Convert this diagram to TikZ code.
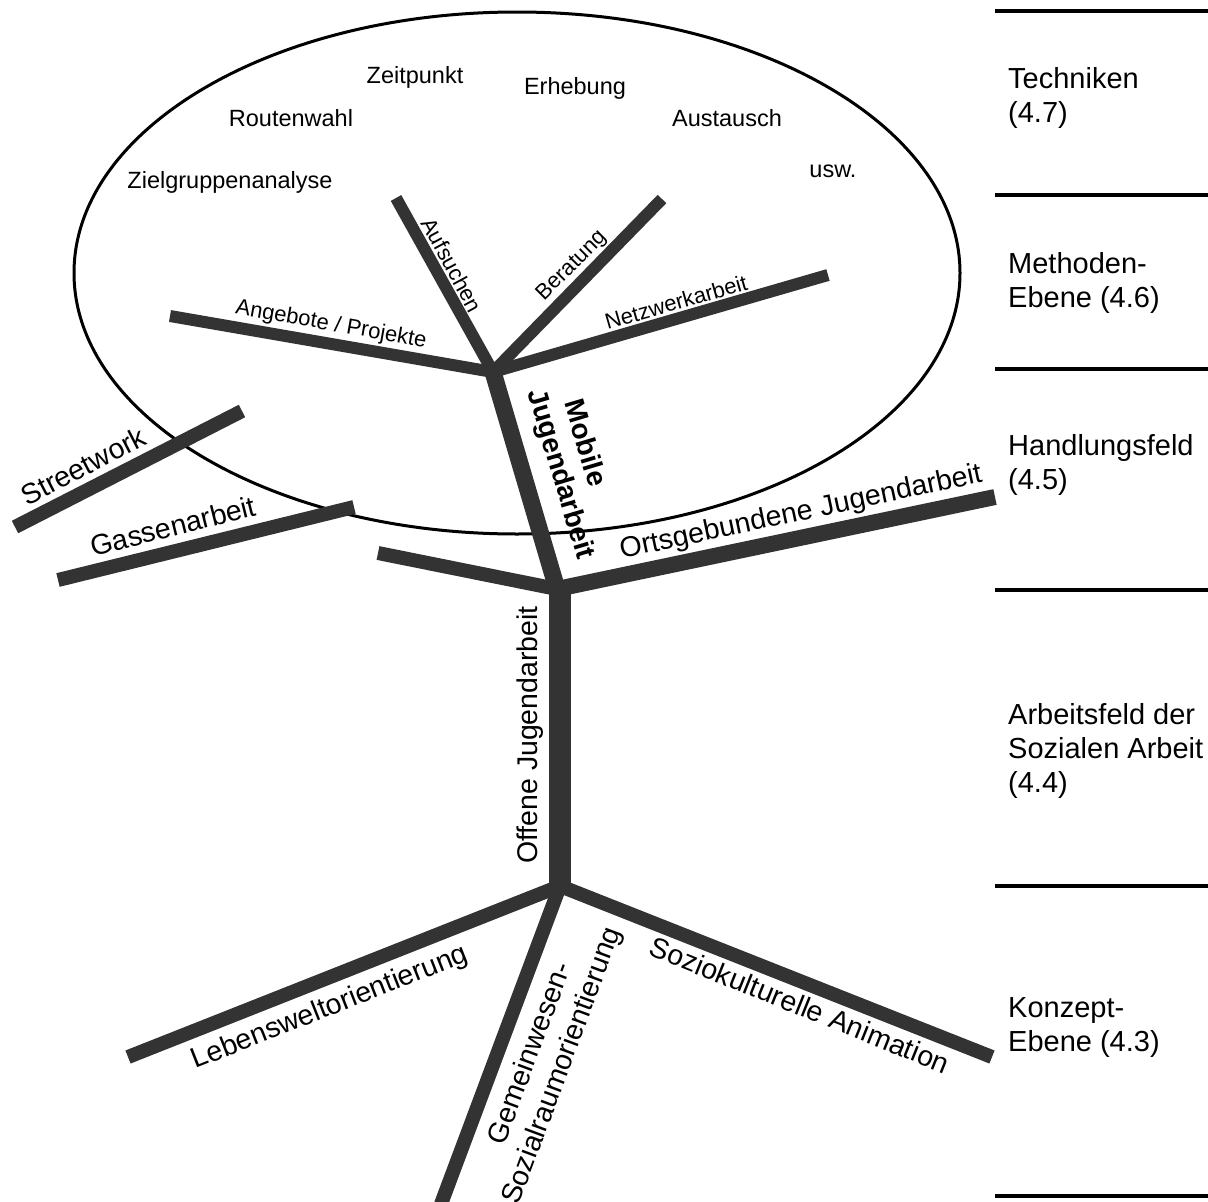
\documentclass[tikz,border=0pt]{standalone}
\usepackage{fontspec}
\setmainfont{Liberation Sans}
\usetikzlibrary{shapes.geometric}
\definecolor{brgray}{HTML}{333333}
\begin{document}
\begin{tikzpicture}[x=1pt,y=-1pt,
  br/.style={draw=brgray,line width=#1,line cap=butt},
  lbl/.style={inner sep=0pt,font=\fontsize{28.5}{34}\selectfont},
  slbl/.style={inner sep=0pt,font=\fontsize{22}{26}\selectfont},
  tech/.style={inner sep=0pt,anchor=base,font=\fontsize{23.5}{28}\selectfont},
  lvl/.style={inner sep=0pt,anchor=north west,align=left,font=\fontsize{29}{34}\selectfont},
  sep/.style={draw=black,line width=3.3pt}]
\useasboundingbox (0,0) rectangle (1208,1202);
% ellipse
\node[draw=black,line width=3pt,ellipse,minimum width=886pt,minimum height=522pt,inner sep=0pt] (ell) at (517,273) {};
% coordinates
\coordinate (jt) at (493,372);
\coordinate (jm) at (557,589);
\coordinate (jb) at (560,886);
\coordinate (tTop) at (560,582);
\coordinate (tBot) at (560,895);
\coordinate (eAng) at (170,316);
\coordinate (eAuf) at (396,198);
\coordinate (eBer) at (662,199);
\coordinate (eNetz) at (828,275);
\coordinate (sA) at (15,527);
\coordinate (sB) at (242,411);
\coordinate (gA) at (58,580);
\coordinate (gB) at (354,507);
\coordinate (eLeft) at (378,553);
\coordinate (eOrts) at (995,497);
\coordinate (eLeb) at (128,1057);
\coordinate (eGem) at (441,1204);
\coordinate (eSozio) at (992,1057);
% branches
\draw[br=22pt] (tBot) -- (tTop);
\draw[br=17pt] (jm) -- (jt);
\draw[br=16pt] (jm) -- (eOrts);
\draw[br=14pt] (jm) -- (eLeft);
\draw[br=12pt] (jt) -- (eAng);
\draw[br=12pt] (jt) -- (eAuf);
\draw[br=12pt] (jt) -- (eBer);
\draw[br=12pt] (jt) -- (eNetz);
\draw[br=14pt] (sA) -- (sB);
\draw[br=14pt] (gA) -- (gB);
\draw[br=14pt] (jb) -- (eLeb);
\draw[br=14pt] (jb) -- (eGem);
\draw[br=14pt] (jb) -- (eSozio);
% technique words
\node[tech] (zeit) at (415,83) {Zeitpunkt};
\node[tech] (erh) at (575,94) {Erhebung};
\node[tech] (rout) at (291,126) {Routenwahl};
\node[tech] (aust) at (727,126) {Austausch};
\node[tech] (ziel) at (230,188) {Zielgruppenanalyse};
\node[tech] (usw) at (833,177) {usw.};
% branch labels
\node[slbl,rotate=-10] (lAng) at (331,325) {Angebote / Projekte};
\node[slbl,rotate=-61.6] (lAuf) at (452,265) {Aufsuchen};
\node[slbl,rotate=45] (lBer) at (572,266) {Beratung};
\node[slbl,rotate=16] (lNetz) at (676,302) {Netzwerkarbeit};
\node[inner sep=0pt,align=center,rotate=-73.4,font=\fontsize{28}{32}\bfseries\selectfont] (lMob) at (575,470) {Mobile\hspace*{46pt}\\Jugendarbeit};
\node[lbl,rotate=27.3] (lStr) at (83,466) {Streetwork};
\node[lbl,rotate=14] (lGas) at (173,526) {Gassenarbeit};
\node[lbl,rotate=12] (lOrts) at (801,513) {Ortsgebundene Jugendarbeit};
\node[lbl,rotate=90] (lOff) at (530,735) {Offene Jugendarbeit};
\node[lbl,rotate=21.5] (lLeb) at (330,1008) {Lebensweltorientierung};
\node[lbl,align=center,rotate=69.6] (lGem) at (547,1060) {Gemeinwesen-\\Sozialraumorientierung};
\node[lbl,rotate=-21.9] (lSoz) at (800,1005) {Soziokulturelle Animation};
% levels
\coordinate (s1a) at (995,11); \coordinate (s1b) at (1208,11);
\coordinate (s2a) at (995,195); \coordinate (s2b) at (1208,195);
\coordinate (s3a) at (995,369); \coordinate (s3b) at (1208,369);
\coordinate (s4a) at (995,590); \coordinate (s4b) at (1208,590);
\coordinate (s5a) at (995,886); \coordinate (s5b) at (1208,886);
\coordinate (s6a) at (995,1196); \coordinate (s6b) at (1208,1196);
\foreach \i in {1,...,6} {\draw[sep] (s\i a) -- (s\i b);}
\node[lvl] (v7) at (1008,67) {Techniken\\(4.7)};
\node[lvl] (v6) at (1008,252) {Methoden-\\Ebene (4.6)};
\node[lvl] (v5) at (1008,434) {Handlungsfeld\\(4.5)};
\node[lvl] (v4) at (1008,703) {Arbeitsfeld der\\Sozialen Arbeit\\(4.4)};
\node[lvl] (v3) at (1008,997) {Konzept-\\Ebene (4.3)};
\end{tikzpicture}
\end{document}
